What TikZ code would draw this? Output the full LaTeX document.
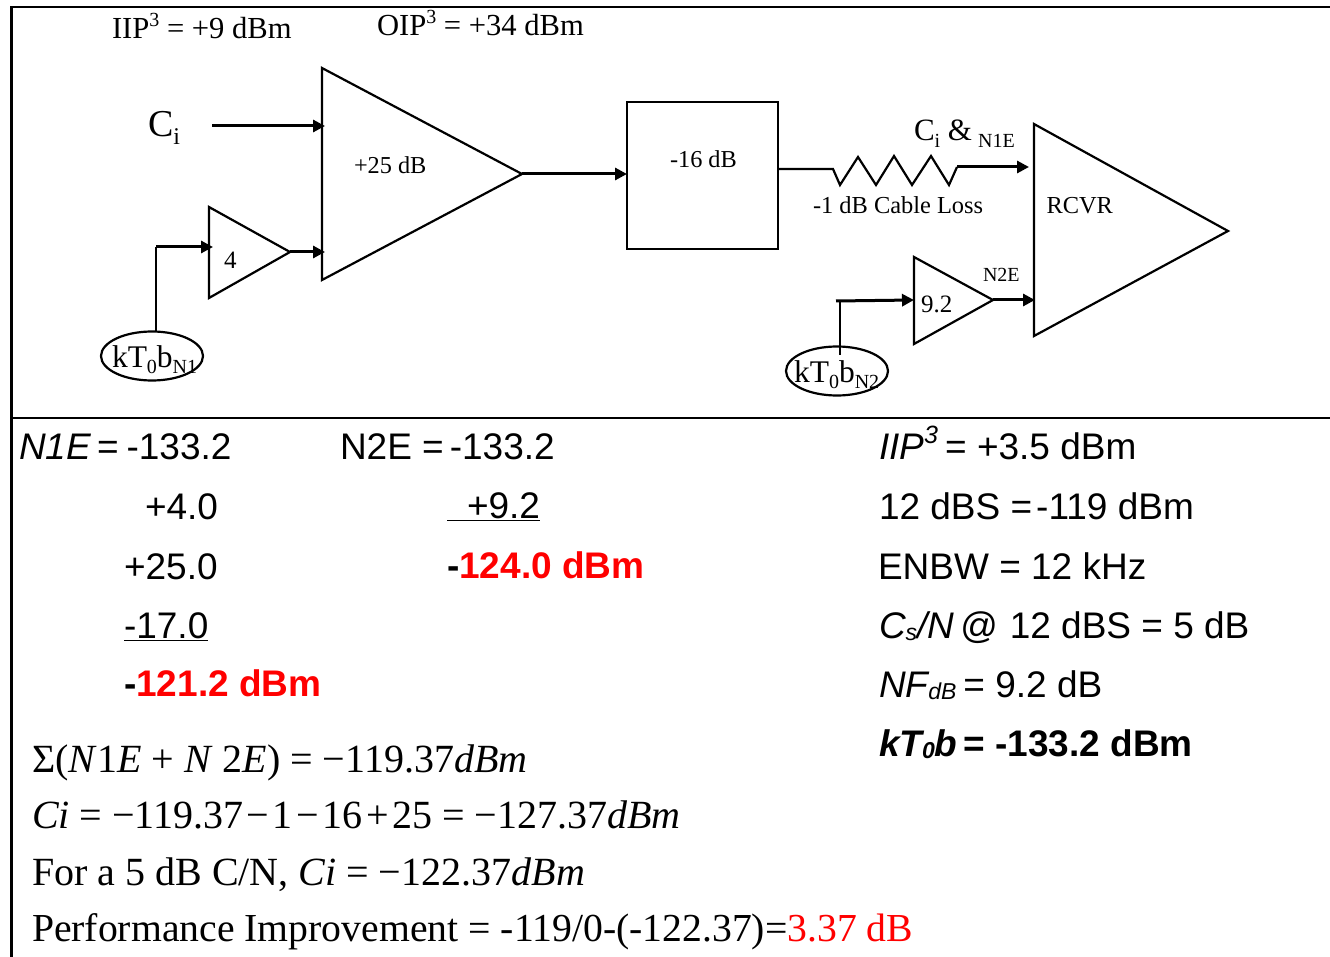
\documentclass[tikz,border=0pt]{standalone}
\usepackage{fontspec}
\setmainfont{Liberation Serif}
\newfontfamily\arfont{Liberation Sans}
\usetikzlibrary{arrows.meta,shapes.geometric}
\newcommand\dn[2]{\raisebox{-.2em}{\fontsize{#1}{#1}\selectfont #2}}
\newcommand\dnn[2]{\raisebox{-.06em}{\fontsize{#1}{#1}\selectfont #2}}
\newcommand\up[2]{\raisebox{.42em}{\fontsize{#1}{#1}\selectfont #2}}
\newcommand\tsp{\hspace{3.5pt}}
\tikzset{
  lbl/.style={anchor=base west,inner sep=0pt,outer sep=0pt,text=black},
  sr/.style={lbl,font=\fontsize{#1}{#1}\selectfont},
  ar/.style={lbl,font=\arfont\fontsize{#1}{#1}\selectfont},
  shape line/.style={draw=black,line width=2.2pt,line join=miter},
  frame line/.style={draw=black,line width=2.4pt},
  conn/.style={draw=black,line width=3pt,-{Triangle[length=12pt,width=12pt]}},
  plain conn/.style={draw=black,line width=2.4pt},
  noise/.style={ellipse,draw=black,line width=2.2pt,minimum width=102pt,minimum height=49pt,inner sep=0pt,outer sep=0pt},
  gainbox/.style={rectangle,draw=black,line width=2.2pt,minimum width=151pt,minimum height=147pt,inner sep=0pt,outer sep=0pt}
}
\definecolor{hot}{RGB}{255,0,0}
\begin{document}
\begin{tikzpicture}[x=1pt,y=-1pt]
\useasboundingbox (0,0) rectangle (1330,957);
% frame
\coordinate (ftl) at (11.5,7);
\coordinate (ftr) at (1330,7);
\coordinate (fbl) at (11.5,957);
\coordinate (sl) at (11.5,418);
\coordinate (sr) at (1330,418);
\draw[frame line] (ftr) -- (ftl) -- (fbl);
\draw[frame line] (sl) -- (sr);
% top labels
\node[sr=30.6] (iip) at (112,39) {IIP\up{20}{3} = +9 dBm};
\node[sr=30.6] (oip) at (377,36) {OIP\up{20}{3} = +34 dBm};
\node[sr=38] (ci) at (148,136.5) {C\dn{24}{i}};
% amplifier 1
\coordinate (aa) at (322,68);
\coordinate (ab) at (322,280);
\coordinate (ac) at (522,174);
\draw[shape line] (aa) -- (ab) -- (ac) -- cycle;
\node[sr=24.3] (g25) at (354,174) {+25 dB};
% small amp
\coordinate (ba) at (209,207);
\coordinate (bb) at (209,298);
\coordinate (bc) at (290,252);
\draw[shape line] (ba) -- (bb) -- (bc) -- cycle;
\node[sr=25] (g4) at (224,268.5) {4};
% noise 1
\node[noise] (n1) at (152,356) {};
\node[sr=31.5] (n1t) at (112,367) {kT\dn{20}{0}b\dn{20}{N1}};
\coordinate (n1top) at (156,332);
\coordinate (n1corner) at (156,247);
\coordinate (binp) at (213,247);
\coordinate (ciin) at (212,126);
\coordinate (aina) at (325,126);
\coordinate (ainb) at (325,252);
\draw[plain conn] (n1top) -- (n1corner);
\draw[conn] (n1corner) -- (binp);
\draw[conn] (ciin) -- (aina);
\draw[conn] (bc) -- (ainb);
% pad
\node[gainbox] (pad) at (702.5,175.5) {};
\node[sr=24.3] (g16) at (670,168) {-16 dB};
\draw[conn] (ac) -- (ac -| pad.west);
% cable
\coordinate (z0) at (778,169);
\coordinate (z1) at (833,169);
\coordinate (z2) at (840,185);
\coordinate (z3) at (858,157);
\coordinate (z4) at (876,185);
\coordinate (z5) at (894,156);
\coordinate (z6) at (912,185);
\coordinate (z7) at (931,156);
\coordinate (z8) at (949,185);
\coordinate (z9) at (957,167);
\coordinate (zend) at (1029,167);
\draw[draw=black,line width=2.2pt,line join=miter] (z0) -- (z1) -- (z2) -- (z3) -- (z4) -- (z5) -- (z6) -- (z7) -- (z8) -- (z9);
\draw[conn] (z9) -- (zend);
\node[sr=31] (cin) at (914,141) {C\dn{20}{i} \&\hspace{6pt}\dn{20}{N1E}};
\node[sr=24.4] (loss) at (813,214) {-1 dB Cable Loss};
% receiver
\coordinate (ra) at (1034,124);
\coordinate (rb) at (1034,336);
\coordinate (rc) at (1228,231);
\draw[shape line] (ra) -- (rb) -- (rc) -- cycle;
\node[sr=24.4] (rcvr) at (1046.5,214) {RCVR};
% amp 9.2
\coordinate (ca) at (914,257);
\coordinate (cb) at (914,344);
\coordinate (cc) at (993,300);
\draw[shape line] (ca) -- (cb) -- (cc) -- cycle;
\node[sr=25] (g92) at (921,312.5) {9.2};
\node[sr=20] (n2e) at (983,281.5) {N2E};
\coordinate (rin) at (1035,300);
\draw[conn] (cc) -- (rin);
% noise 2
\node[noise] (n2) at (837,371) {};
\node[sr=31.5] (n2t) at (794,382) {kT\dn{20}{0}b\dn{20}{N2}};
\coordinate (n2top) at (840,355);
\coordinate (n2corner) at (840,301);
\coordinate (n2start) at (836,301);
\coordinate (cin2) at (914,300);
\draw[plain conn] (n2top) -- (n2corner);
\draw[conn] (n2start) -- (cin2);
% left column
\node[ar=37] (r1a) at (19,459.5) {\textit{N1E}};
\node[ar=37] (r1b) at (97,459.5) {=\hspace{8pt}-133.2};
\node[ar=37] (r2a) at (145,519) {+4.0};
\node[ar=37] (r3a) at (124,579) {+25.0};
\node[ar=37] (r4a) at (124,638) {\underline{-17.0}};
\node[ar=37] (r5a) at (124,696) {\bfseries -\textcolor{hot}{121.2 dBm}};
% middle column
\node[ar=37] (m1) at (340,459.5) {N2E =\hspace{6pt}-133.2};
\node[ar=37] (m2) at (447,518.5) {\underline{\hspace{20pt}+9.2}};
\node[ar=37] (m3) at (447,578) {\bfseries -\textcolor{hot}{124.0 dBm}};
% right column
\node[ar=37] (p1) at (879,459.5) {\textit{IIP\up{25}{3}}\hspace{7pt}= +3.5 dBm};
\node[ar=37] (p2) at (879,519) {12 dBS =\hspace{4pt}-119 dBm};
\node[ar=37] (p3) at (878,579) {ENBW = 12 kHz};
\node[ar=37] (p4) at (879,638) {\textit{C\dnn{23}{s}/N}\hspace{6pt}@\hspace{12pt}12 dBS = 5 dB};
\node[ar=37] (p5) at (879,697) {\textit{NF\dnn{23}{dB}}\hspace{7pt}= 9.2 dB};
\node[ar=37] (p6) at (879,756) {\bfseries\itshape kT\dnn{23}{0}b\upshape\hspace{6pt}= -133.2 dBm};
% equations
\node[sr=40] (e1) at (32,772) {Σ(\textit{N}1\textit{E} + \textit{N} 2\textit{E}) = −119.37\textit{dBm}};
\node[sr=40] (e2) at (32,828) {\textit{Ci} = −119.37\tsp−\tsp1\tsp−\tsp16\tsp+\tsp25 = −127.37\textit{dBm}};
\node[sr=40] (e3) at (32,885) {For a 5 dB C/N, \textit{Ci} = −122.37\textit{dBm}};
\node[sr=39.7] (e4) at (32,941) {Performance Improvement = -119/0-(-122.37)=\textcolor{hot}{3.37 dB}};
\end{tikzpicture}
\end{document}
